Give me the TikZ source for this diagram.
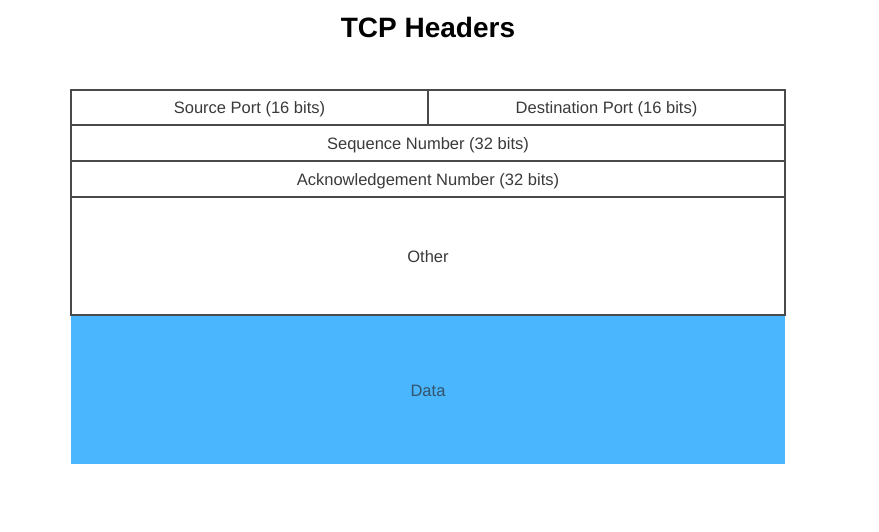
\documentclass[tikz,border=0pt]{standalone}
\usepackage{fontspec}
\setmainfont{Liberation Sans}
\definecolor{linegray}{HTML}{4A4A4A}
\definecolor{txtgray}{HTML}{3A3A3A}
\definecolor{datablue}{HTML}{4AB6FD}
\definecolor{datatxt}{HTML}{33536B}
\begin{document}
\begin{tikzpicture}[x=1pt,y=-1pt,
  field/.style={draw=linegray,line width=1.1pt,fill=white,inner sep=0pt},
  lbl/.style={text=txtgray,inner sep=0pt,font=\fontsize{16.5}{19}\selectfont},
  datafield/.style={fill=datablue,draw=none,inner sep=0pt}]
\useasboundingbox (0,0) rectangle (879,531);
\node[font=\bfseries\fontsize{28}{32}\selectfont,text=black] (title) at (428,27) {TCP Headers};
\node[datafield,minimum width=714pt,minimum height=149pt] (data) at (428,389.5) {};
\node[lbl,text=datatxt] (datalbl) at (428,391) {Data};
\node[field,minimum width=357pt,minimum height=35pt] (src) at (249.5,107.5) {};
\node[field,minimum width=357pt,minimum height=35pt] (dst) at (606.5,107.5) {};
\node[field,minimum width=714pt,minimum height=36pt] (seq) at (428,143) {};
\node[field,minimum width=714pt,minimum height=36pt] (ack) at (428,179) {};
\node[field,minimum width=714pt,minimum height=118pt] (other) at (428,256) {};
\node[lbl] (srclbl) at ([yshift=-2pt]src.center) {Source Port (16 bits)};
\node[lbl] (dstlbl) at ([yshift=-2pt]dst.center) {Destination Port (16 bits)};
\node[lbl] (seqlbl) at ([yshift=-2pt]seq.center) {Sequence Number (32 bits)};
\node[lbl] (acklbl) at ([yshift=-2pt]ack.center) {Acknowledgement Number (32 bits)};
\node[lbl] (otherlbl) at ([yshift=-1pt]other.center) {Other};
\end{tikzpicture}
\end{document}
